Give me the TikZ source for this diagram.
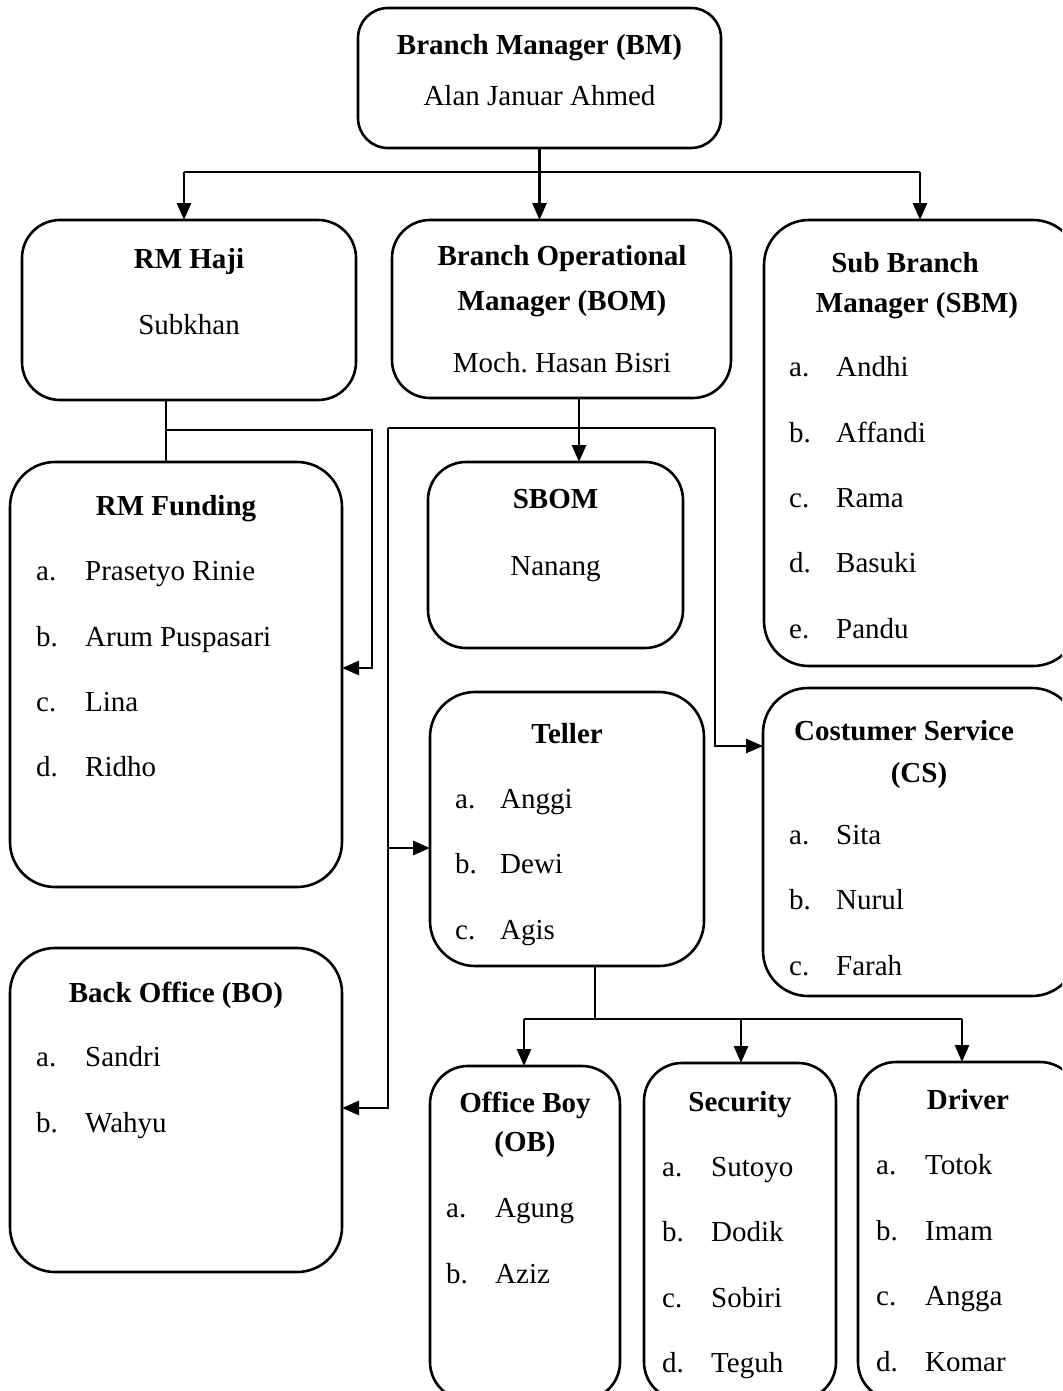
\documentclass[tikz,border=0pt]{standalone}
\usepackage{fontspec}
\setmainfont{Liberation Serif}
\usetikzlibrary{arrows.meta}
\frenchspacing
\newcommand{\orgitem}[6]{\node[li] (#1-l) at (#2,-#4) {#5.}; \node[li] (#1-n) at (#3,-#4) {#6};}
\begin{document}
\begin{tikzpicture}[x=1pt,y=1pt, font=\fontsize{29}{35}\selectfont,
 box/.style={draw, line width=2.6pt, rounded corners=38pt, inner sep=0pt, outer sep=0pt},
 hd/.style={font=\fontsize{29}{35}\selectfont\bfseries, anchor=mid, inner sep=0pt, yshift=-8pt},
 tx/.style={anchor=mid, inner sep=0pt, yshift=-8pt},
 li/.style={anchor=mid west, inner sep=0pt, yshift=-8pt},
 ln/.style={line width=2.6pt},
 arr/.style={line width=2.6pt, -{Triangle[length=17pt,width=14pt]}}]
\useasboundingbox (0,0) rectangle (1062,-1391);
\clip (0,0) rectangle (1062,-1391);
\fill[white] (0,0) rectangle (1062,-1391);

% boxes
\node[box, minimum width=363pt, minimum height=140pt, rounded corners=30pt] (bm) at (539.5,-78) {};
\node[box, minimum width=334pt, minimum height=180pt] (rmh) at (189,-310) {};
\node[box, minimum width=339pt, minimum height=178pt] (bom) at (561.5,-309) {};
\node[box, minimum width=314pt, minimum height=446pt, rounded corners=45pt] (sbm) at (921,-443) {};
\node[box, minimum width=332pt, minimum height=425pt, rounded corners=45pt] (rmf) at (176,-674.5) {};
\node[box, minimum width=255pt, minimum height=186pt] (sbom) at (555.5,-555) {};
\node[box, minimum width=274pt, minimum height=274pt, rounded corners=45pt] (teller) at (567,-829) {};
\node[box, minimum width=314pt, minimum height=308pt, rounded corners=45pt] (cs) at (920,-842) {};
\node[box, minimum width=332pt, minimum height=324pt, rounded corners=45pt] (bo) at (176,-1110) {};
\node[box, minimum width=190pt, minimum height=334pt] (ob) at (525,-1233) {};
\node[box, minimum width=192pt, minimum height=337pt] (sec) at (740,-1231.5) {};
\node[box, minimum width=220pt, minimum height=338pt] (drv) at (968,-1231) {};

% texts
\node[hd] (bm-h) at (539.5,-44) {Branch Manager (BM)};
\node[tx] (bm-t) at (539.5,-95) {Alan Januar Ahmed};
\node[hd] (rmh-h) at (189,-258) {RM Haji};
\node[tx] (rmh-t) at (189,-324) {Subkhan};
\node[hd] (bom-h1) at (562,-255) {Branch Operational};
\node[hd] (bom-h2) at (562,-300) {Manager (BOM)};
\node[tx] (bom-t) at (562,-362) {Moch. Hasan Bisri};
\node[hd] (sbm-h1) at (905,-262) {Sub Branch};
\node[hd] (sbm-h2) at (917,-302) {Manager (SBM)};
\orgitem{sbm-a}{789}{836}{366}{a}{Andhi}
\orgitem{sbm-b}{789}{836}{432}{b}{Affandi}
\orgitem{sbm-c}{789}{836}{497}{c}{Rama}
\orgitem{sbm-d}{789}{836}{562}{d}{Basuki}
\orgitem{sbm-e}{789}{836}{628}{e}{Pandu}
\node[hd] (rmf-h) at (176,-505) {RM Funding};
\orgitem{rmf-a}{36}{85}{570}{a}{Prasetyo Rinie}
\orgitem{rmf-b}{36}{85}{636}{b}{Arum Puspasari}
\orgitem{rmf-c}{36}{85}{701}{c}{Lina}
\orgitem{rmf-d}{36}{85}{766}{d}{Ridho}
\node[hd] (sbom-h) at (555.5,-498) {SBOM};
\node[tx] (sbom-t) at (555.5,-565) {Nanang};
\node[hd] (tel-h) at (567,-733) {Teller};
\orgitem{tel-a}{455}{500}{798}{a}{Anggi}
\orgitem{tel-b}{455}{500}{863}{b}{Dewi}
\orgitem{tel-c}{455}{500}{929}{c}{Agis}
\node[hd] (cs-h1) at (904,-730) {Costumer Service};
\node[hd] (cs-h2) at (919,-772) {(CS)};
\orgitem{cs-a}{789}{836}{834}{a}{Sita}
\orgitem{cs-b}{789}{836}{899}{b}{Nurul}
\orgitem{cs-c}{789}{836}{965}{c}{Farah}
\node[hd] (bo-h) at (176,-992) {Back Office (BO)};
\orgitem{bo-a}{36}{85}{1056}{a}{Sandri}
\orgitem{bo-b}{36}{85}{1122}{b}{Wahyu}
\node[hd] (ob-h1) at (525,-1102) {Office Boy};
\node[hd] (ob-h2) at (525,-1141) {(OB)};
\orgitem{ob-a}{446}{495}{1207}{a}{Agung}
\orgitem{ob-b}{446}{495}{1273}{b}{Aziz}
\node[hd] (sec-h) at (740,-1101) {Security};
\orgitem{sec-a}{662}{711}{1166}{a}{Sutoyo}
\orgitem{sec-b}{662}{711}{1231}{b}{Dodik}
\orgitem{sec-c}{662}{711}{1297}{c}{Sobiri}
\orgitem{sec-d}{662}{711}{1362}{d}{Teguh}
\node[hd] (drv-h) at (968,-1099) {Driver};
\orgitem{drv-a}{876}{925}{1164}{a}{Totok}
\orgitem{drv-b}{876}{925}{1230}{b}{Imam}
\orgitem{drv-c}{876}{925}{1295}{c}{Angga}
\orgitem{drv-d}{876}{925}{1361}{d}{Komar}

% connectors: BM
\coordinate (t1) at (184,-172);
\coordinate (t2) at (920,-172);
\draw[ln] (t1) -- (t2);
\draw[arr] (t1) -- (t1 |- rmh.north);
\draw[arr] (t2) -- (t2 |- sbm.north);
\draw[arr] (bm.south) -- (bm.south |- bom.north);

% RM Haji
\coordinate (h1) at (166,-430);
\coordinate (h2) at (372,-430);
\coordinate (h3) at (372,-668);
\draw[ln] (h1 |- rmh.south) -- (h1 |- rmf.north);
\draw[arr] (h1) -- (h2) -- (h3) -- (h3 -| rmf.east);

% BOM
\coordinate (b1) at (579,-428);
\draw[arr] (b1 |- bom.south) -- (b1 |- sbom.north);
\coordinate (f1) at (388,-428);
\coordinate (f2) at (715,-428);
\coordinate (f3) at (715,-746);
\coordinate (f4) at (388,-1108);
\coordinate (f5) at (388,-848);
\draw[ln] (f1) -- (f2);
\draw[arr] (f2) -- (f3) -- (f3 -| cs.west);
\draw[arr] (f1) -- (f4) -- (f4 -| bo.east);
\draw[arr] (f5) -- (f5 -| teller.west);

% Teller
\coordinate (e1) at (595,-1019);
\coordinate (e2) at (524,-1019);
\coordinate (e3) at (741,-1019);
\coordinate (e4) at (962,-1019);
\draw[ln] (e1 |- teller.south) -- (e1);
\draw[ln] (e2) -- (e4);
\draw[arr] (e2) -- (e2 |- ob.north);
\draw[arr] (e3) -- (e3 |- sec.north);
\draw[arr] (e4) -- (e4 |- drv.north);
\end{tikzpicture}
\end{document}
